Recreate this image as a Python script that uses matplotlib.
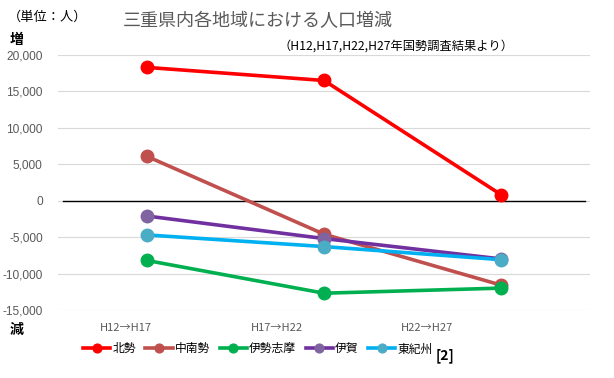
import numpy as np
import matplotlib
matplotlib.use("Agg")
import matplotlib.pyplot as plt

plt.rcParams['font.family'] = ['Noto Sans CJK JP', 'DejaVu Sans']

periods = ["H12→H17", "H17→H22", "H22→H27"]
hokusei = [18300, 16500, 800]
chunansei = [6100, -4600, -11600]
iseshima = [-8200, -12700, -12000]
iga = [-2100, -5200, -8000]
higashikishu = [-4700, -6300, -8100]

series = [
    ("北勢", hokusei, "#ff0000", "#ff0000"),
    ("中南勢", chunansei, "#c0504d", "#c0504d"),
    ("伊勢志摩", iseshima, "#00b050", "#00b050"),
    ("伊賀", iga, "#7030a0", "#8064a2"),
    ("東紀州", higashikishu, "#00b0f0", "#4bacc6"),
]

fig = plt.figure(figsize=(6.14, 3.78), dpi=100)
ax = fig.add_axes([0.0945, 0.18, 0.8665, 0.6745])

x = np.arange(len(periods))
for name, vals, lc, mc in series:
    ax.plot(x, vals, color=lc, lw=2.6, marker="o", ms=9,
            markerfacecolor=mc, markeredgecolor=mc, label=name, zorder=3)

ax.set_xlim(-0.5, len(periods) - 0.5)
ax.set_ylim(-15000, 20000)
ax.set_yticks(np.arange(-15000, 20001, 5000))
ax.set_yticklabels([f"{v:,}" for v in range(-15000, 20001, 5000)],
                   color="#595959", fontsize=8.6, family=['Liberation Sans', 'DejaVu Sans'])
ax.set_xticks([])
ax.tick_params(axis="y", length=0, pad=11)
ax.grid(axis="y", color="#d9d9d9", lw=0.8)
ax.axhline(0, xmin=0.01, xmax=0.99, color="black", lw=1.0, zorder=2)
for s in ax.spines.values():
    s.set_visible(False)

# category labels sit left of the points in the original
for px, lab in zip([0.128, 0.412, 0.694], periods):
    ax.text(px, -0.07, lab, transform=ax.transAxes, ha="center", va="center",
            fontsize=8, color="#595959")

fig.text(0.42, 0.945, "三重県内各地域における人口増減", ha="center", va="center",
         fontsize=13, color="#595959")
fig.text(0.013, 0.955, "（単位：人）", ha="left", va="center", fontsize=9.5, color="black")
fig.text(0.015, 0.893, "増", ha="left", va="center", fontsize=10, color="black", weight="bold")
fig.text(0.015, 0.128, "減", ha="left", va="center", fontsize=10, color="black", weight="bold")
fig.text(0.836, 0.878, "（H12,H17,H22,H27年国勢調査結果より）", ha="right", va="center",
         fontsize=8.8, color="black")
fig.text(0.725, 0.058, "[2]", ha="center", va="center", fontsize=10, weight="bold")

fig.legend(loc="center", bbox_to_anchor=(0.42, 0.077), ncol=5, frameon=False,
           fontsize=8.5, handlelength=2.3, handletextpad=0.2, columnspacing=0.8,
           markerscale=0.7)

fig.savefig("out.png", dpi=100)
